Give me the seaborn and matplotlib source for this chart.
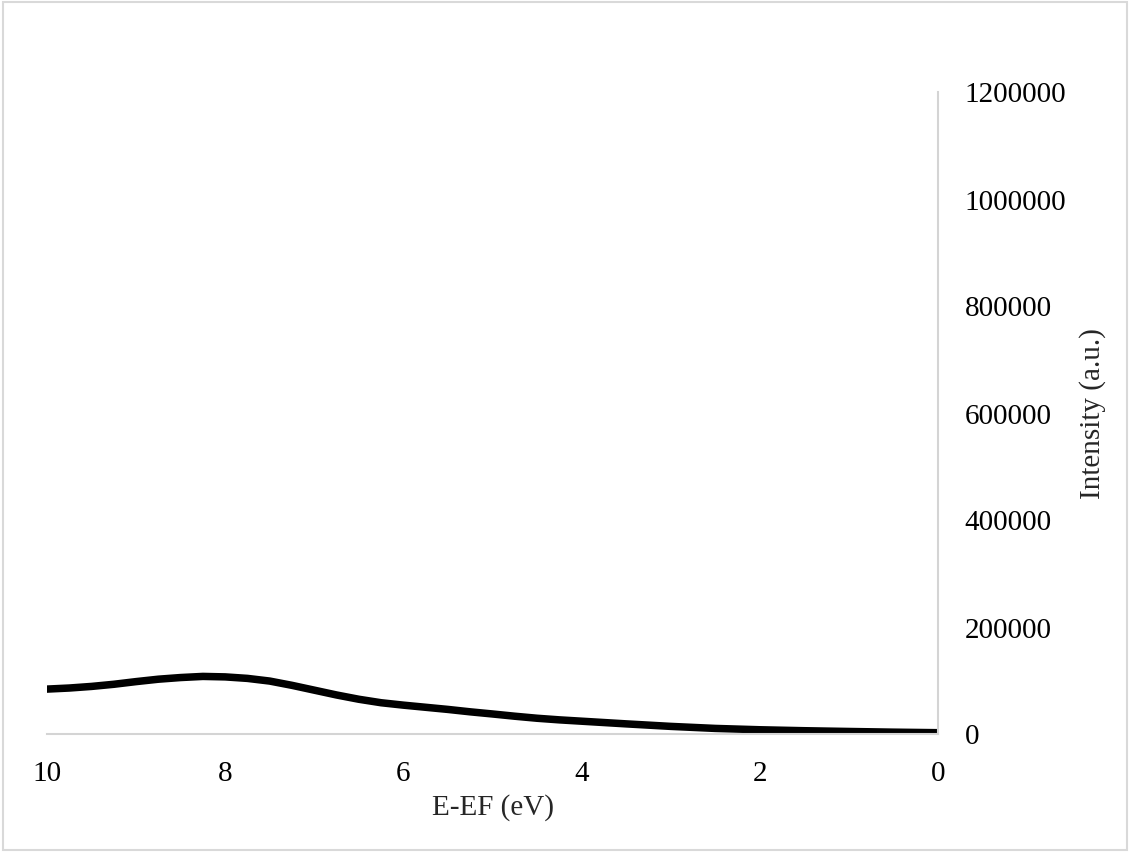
import matplotlib
matplotlib.use("Agg")
import matplotlib.pyplot as plt
from matplotlib.patches import Rectangle
import seaborn as sns
import pandas as pd

# Valence-band spectrum: binding energy relative to the Fermi level and intensity
energy = [10.0, 9.75, 9.5, 9.25, 9.0, 8.75, 8.5, 8.25, 8.0, 7.75, 7.5, 7.25,
          7.0, 6.75, 6.5, 6.25, 6.0, 5.75, 5.5, 5.25, 5.0, 4.75, 4.5, 4.25,
          4.0, 3.5, 3.0, 2.5, 2.0, 1.5, 1.0, 0.5, 0.0]
intensity = [83000, 85000, 88000, 92000, 97000, 101500, 104600, 106700, 105800,
             103000, 98000, 90000, 81000, 72000, 64000, 57500, 53000, 49000,
             45000, 40500, 36500, 32300, 28500, 25500, 23000, 18000, 13300,
             9500, 7000, 5200, 3800, 2500, 1500]

x_ticks = [10, 8, 6, 4, 2, 0]
y_ticks = [0, 200000, 400000, 600000, 800000, 1000000, 1200000]

sns.set_style("white")
plt.rcParams["font.family"] = ["Liberation Serif", "DejaVu Serif"]

df = pd.DataFrame({"E-EF (eV)": energy, "Intensity (a.u.)": intensity})

fig = plt.figure(figsize=(11.3, 8.54), dpi=100)
ax = fig.add_axes([47 / 1130, (854 - 734.5) / 854, (938 - 47) / 1130, (734.5 - 92.5) / 854])

sns.lineplot(data=df, x="E-EF (eV)", y="Intensity (a.u.)", color="black",
             linewidth=5.4, ax=ax, sort=False)

ax.set_xlim(10, 0)
ax.set_ylim(0, 1200000)
ax.set_xticks(x_ticks)
ax.set_yticks(y_ticks)
ax.set_xticklabels([str(t) for t in x_ticks])
ax.set_yticklabels([str(t) for t in y_ticks])

ax.yaxis.tick_right()
ax.yaxis.set_label_position("right")

for side in ("top", "left"):
    ax.spines[side].set_visible(False)
for side in ("right", "bottom"):
    ax.spines[side].set_color("#d4d4d4")
    ax.spines[side].set_linewidth(1.5)

ax.tick_params(axis="both", length=0, labelsize=21, colors="black")
ax.tick_params(axis="y", pad=19)
ax.tick_params(axis="x", pad=19)

ax.set_xlabel("E-EF (eV)", fontsize=21)
ax.set_ylabel("Intensity (a.u.)", fontsize=21)
ax.xaxis.set_label_coords(0.5, -0.093)
ax.yaxis.set_label_coords(1.158, 0.5)

# thin frame around the whole figure
fig.patches.append(Rectangle((0.003, 0.003), 0.994, 0.993, transform=fig.transFigure,
                             fill=False, edgecolor="#d9d9d9", linewidth=1.5))

fig.savefig("out.png", dpi=100)
